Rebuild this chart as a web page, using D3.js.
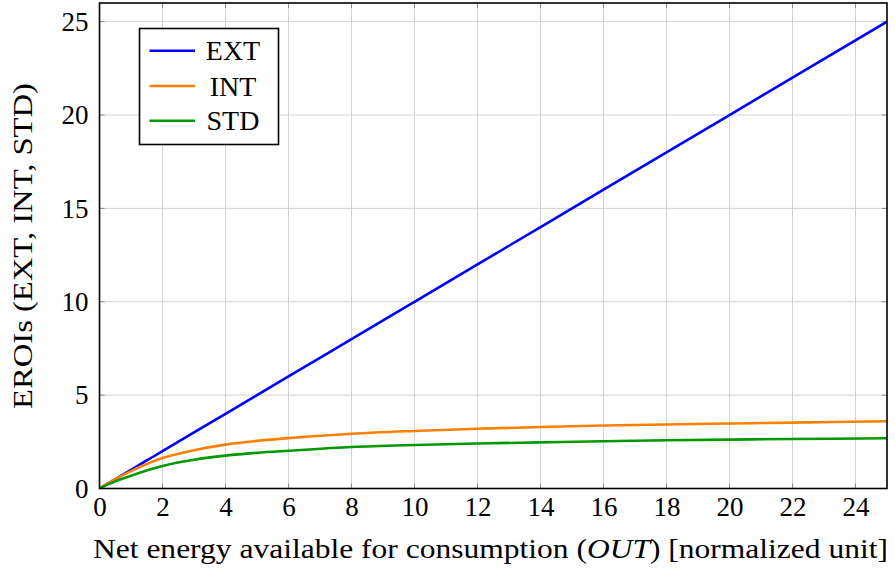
<!DOCTYPE html>
<html>
<head>
<meta charset="utf-8">
<script src="https://cdn.jsdelivr.net/npm/d3@7"></script>
<style>
  body { margin: 0; background: #fff; }
  svg text { font-family: "Liberation Serif", "DejaVu Serif", serif; fill: #000; }
</style>
</head>
<body>
<div id="chart"></div>
<script>
// data
const outValues = [0, 0.5, 1, 1.5, 2, 3, 4, 5, 6, 8, 10, 12, 14, 16, 18, 20, 22, 25];
const extValues = [0, 0.5, 1, 1.5, 2, 3, 4, 5, 6, 8, 10, 12, 14, 16, 18, 20, 22, 25];
const intValues = [0, 0.5, 0.93, 1.31, 1.63, 2.05, 2.35, 2.55, 2.7, 2.93, 3.08, 3.2, 3.29, 3.37, 3.43, 3.48, 3.53, 3.6];
const stdValues = [0, 0.38, 0.68, 0.96, 1.21, 1.54, 1.76, 1.91, 2.02, 2.22, 2.33, 2.41, 2.47, 2.53, 2.58, 2.62, 2.65, 2.69];
const seriesNames = ["EXT", "INT", "STD"];
const xTicks = [0, 2, 4, 6, 8, 10, 12, 14, 16, 18, 20, 22, 24];
const yTicks = [0, 5, 10, 15, 20, 25];

const colors = { EXT: "#0000ff", INT: "#ff8000", STD: "#009900" };
const serif = '"Liberation Serif", "DejaVu Serif", serif';

// svg
const width = 895, height = 572;
const svg = d3.select("#chart").append("svg")
  .attr("width", width).attr("height", height);

const pLeft = 99.5, pRight = 887, pTop = 3, pBottom = 488.5;

// scale
const x = d3.scaleLinear().domain([0, 25]).range([pLeft, pRight]);
const y = d3.scaleLinear().domain([0, 26]).range([pBottom, pTop]);

// grid
svg.append("g")
  .selectAll("line.vgrid")
  .data(xTicks)
  .enter()
  .append("line")
  .attr("x1", d => x(d)).attr("x2", d => x(d))
  .attr("y1", pTop).attr("y2", pBottom)
  .attr("stroke", "#d2d2d2").attr("stroke-width", 1);

svg.append("g")
  .selectAll("line.hgrid")
  .data(yTicks)
  .enter()
  .append("line")
  .attr("x1", pLeft).attr("x2", pRight)
  .attr("y1", d => y(d)).attr("y2", d => y(d))
  .attr("stroke", "#d2d2d2").attr("stroke-width", 1);

// tick marks (inside, top and bottom / left and right)
const tk = 5;
const ticks = svg.append("g").attr("stroke", "#8a8a8a").attr("stroke-width", 1);
xTicks.forEach(d => {
  ticks.append("line").attr("x1", x(d)).attr("x2", x(d)).attr("y1", pBottom).attr("y2", pBottom - tk);
  ticks.append("line").attr("x1", x(d)).attr("x2", x(d)).attr("y1", pTop).attr("y2", pTop + tk);
});
yTicks.forEach(d => {
  ticks.append("line").attr("x1", pLeft).attr("x2", pLeft + tk).attr("y1", y(d)).attr("y2", y(d));
  ticks.append("line").attr("x1", pRight).attr("x2", pRight - tk).attr("y1", y(d)).attr("y2", y(d));
});

// axis labels via d3 axes
const xAxis = svg.append("g")
  .attr("transform", `translate(0, ${pBottom})`)
  .call(d3.axisBottom(x).tickValues(xTicks).tickSize(0).tickPadding(8));
const yAxis = svg.append("g")
  .attr("transform", `translate(${pLeft}, 0)`)
  .call(d3.axisLeft(y).tickValues(yTicks).tickSize(0).tickPadding(11));
[xAxis, yAxis].forEach(a => {
  a.attr("font-family", null).attr("font-size", null);
  a.select(".domain").remove();
  a.selectAll("text")
    .style("font-family", serif)
    .style("font-size", "27px");
});

// lines
const rows = outValues.map((o, i) => ({ o, EXT: extValues[i], INT: intValues[i], STD: stdValues[i] }));

svg.append("clipPath").attr("id", "clip")
  .append("rect").attr("x", pLeft).attr("y", pTop)
  .attr("width", pRight - pLeft).attr("height", pBottom - pTop);

seriesNames.forEach(name => {
  const line = d3.line()
    .x(d => x(d.o))
    .y(d => y(d[name]))
    .curve(d3.curveCatmullRom.alpha(0.5));
  svg.append("path")
    .datum(rows)
    .attr("d", line)
    .attr("fill", "none")
    .attr("stroke", colors[name])
    .attr("stroke-width", 2.6)
    .attr("clip-path", "url(#clip)");
});

// frame
svg.append("rect")
  .attr("x", pLeft).attr("y", pTop)
  .attr("width", pRight - pLeft).attr("height", pBottom - pTop)
  .attr("fill", "none").attr("stroke", "#000").attr("stroke-width", 1.6);

// legend
const lg = svg.append("g");
lg.append("rect")
  .attr("x", 139.5).attr("y", 28.5)
  .attr("width", 139).attr("height", 116)
  .attr("fill", "#fff").attr("stroke", "#000").attr("stroke-width", 1.6);
const rowY = [50.7, 86, 120.7];
seriesNames.forEach((name, i) => {
  lg.append("line")
    .attr("x1", 149.5).attr("x2", 195)
    .attr("y1", rowY[i]).attr("y2", rowY[i])
    .attr("stroke", colors[name]).attr("stroke-width", 2.6);
  lg.append("text")
    .attr("x", 233).attr("y", rowY[i] + 9.5)
    .attr("text-anchor", "middle")
    .style("font-family", serif)
    .style("font-size", "28px")
    .text(name);
});

// axis titles
svg.append("text")
  .attr("x", 490.5).attr("y", 558)
  .attr("text-anchor", "middle")
  .attr("textLength", 795).attr("lengthAdjust", "spacingAndGlyphs")
  .style("font-family", serif)
  .style("font-size", "27px")
  .html('Net energy available for consumption (<tspan font-style="italic">OUT</tspan>) [normalized unit]');

svg.append("text")
  .attr("transform", `translate(32, 246) rotate(-90)`)
  .attr("text-anchor", "middle")
  .attr("textLength", 326).attr("lengthAdjust", "spacingAndGlyphs")
  .style("font-family", serif)
  .style("font-size", "27px")
  .text("EROIs (EXT, INT, STD)");
</script>
</body>
</html>
